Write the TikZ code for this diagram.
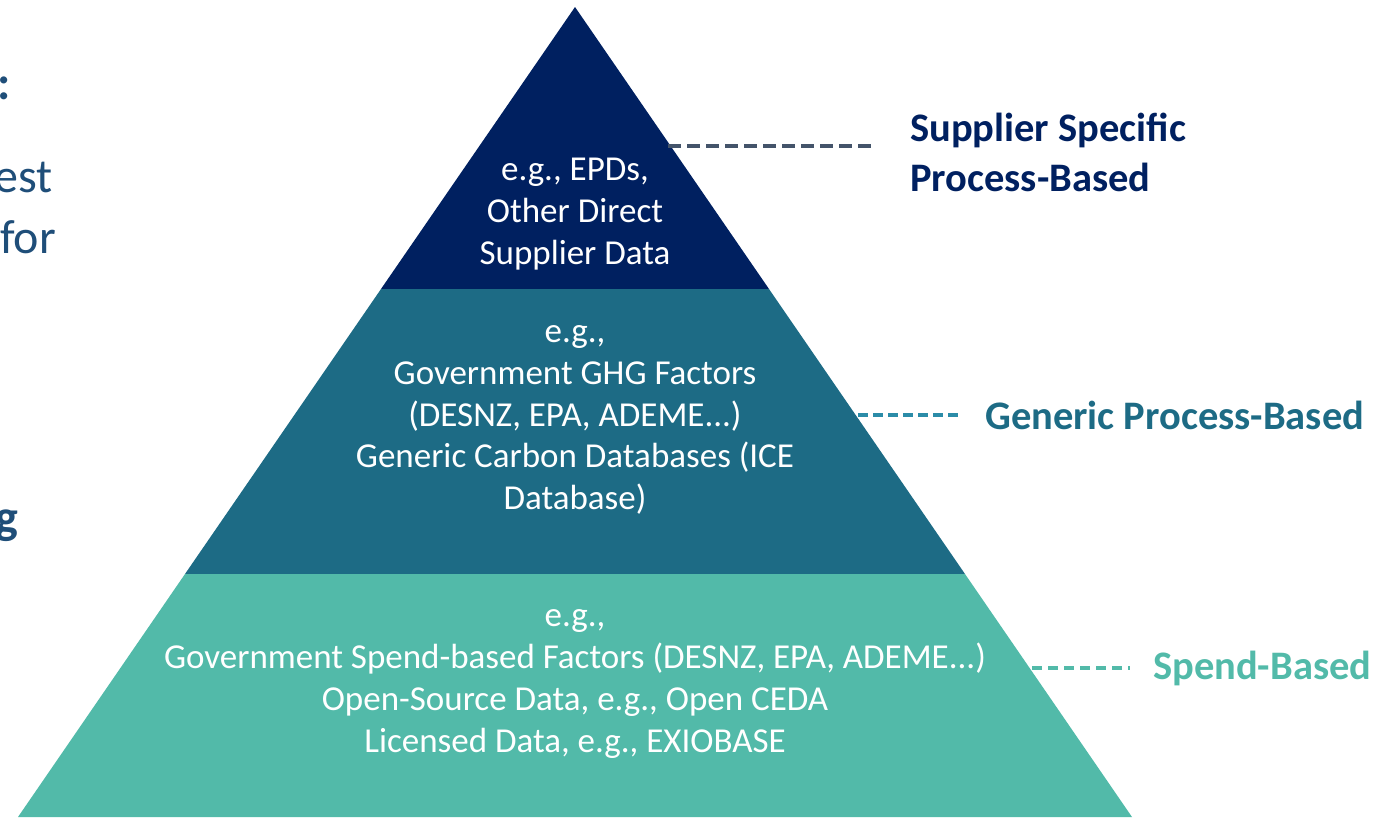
\documentclass[tikz,border=0pt]{standalone}
\usepackage{fontspec}
\setmainfont{Carlito}
\usepackage{tikz}
\usetikzlibrary{positioning}
\definecolor{tiertop}{HTML}{002060}
\definecolor{tiermid}{HTML}{1D6B85}
\definecolor{tierlow}{HTML}{52BAA9}
\definecolor{leadtop}{HTML}{44546A}
\definecolor{leadmid}{HTML}{2B8CA8}
\definecolor{slidetext}{HTML}{1F4E79}
\tikzset{
	tiertext/.style = {text = white, align = center,
		font = \fontsize{35}{41.7}\selectfont},
	level/.style    = {anchor = west, align = left, inner sep = 0pt,
		font = \bfseries\fontsize{40.5}{50}\selectfont},
	leader/.style   = {line width = 4pt, dash pattern = on 13pt off 6pt},
	slide/.style    = {anchor = base west, text = slidetext, inner sep = 0pt,
		font = \fontsize{48}{58}\selectfont}
}
\begin{document}
\begin{tikzpicture}[x=1pt, y=-1pt]
	\useasboundingbox (0,0) rectangle (1391,817);
	
	% pyramid tiers
	\fill[tiertop] (575,7) -- (769,289) -- (381,289) -- cycle;
	\fill[tiermid] (381,289) -- (769,289) -- (965,574) -- (185,574) -- cycle;
	\fill[tierlow] (185,574) -- (965,574) -- (1132,817) -- (18,817) -- cycle;
	
	\draw
	node at (575,214)[tiertext] (t1) {e.g., EPDs,\\Other Direct\\Supplier Data}
	node at (575,420)[tiertext] (t2) {e.g.,\\Government GHG Factors\\(DESNZ, EPA, ADEME...)\\Generic Carbon Databases (ICE\\Database)}
	node at (575,684)[tiertext] (t3) {e.g.,\\Government Spend-based Factors (DESNZ, EPA, ADEME...)\\Open-Source Data, e.g., Open CEDA\\Licensed Data, e.g., EXIOBASE}
	node at (910,152)[level, text=tiertop] (l1) {Supplier Specific\\Process-Based}
	node at (985,415)[level, text=tiermid] (l2) {Generic Process-Based}
	node at (1153,668)[level, text=tierlow] (l3) {Spend-Based}
	;
	
	\coordinate (c1) at (668,146);
	\coordinate (c2) at (858,415);
	\coordinate (c3) at (1032,668);
	\draw[leader, leadtop, shorten >=35pt] (c1) -- (c1 -| l1.west);
	\draw[leader, leadmid, dash pattern = on 10pt off 5pt, shorten >=25pt] (c2) -- (c2 -| l2.west);
	\draw[leader, tierlow, dash pattern = on 10pt off 6pt, shorten >=23pt] (c3) -- (c3 -| l3.west);
	
	% cut-off slide text on the left
	\draw
	node at (-3,99)[slide, font=\bfseries\fontsize{48}{58}\selectfont] (s1) {:}
	node at (-6,192)[slide] (s2) {est}
	node at (0,253)[slide] (s3) {for}
	node at (-5,533)[slide, font=\bfseries\fontsize{48}{58}\selectfont] (s4) {g}
	;
\end{tikzpicture}
\end{document}
